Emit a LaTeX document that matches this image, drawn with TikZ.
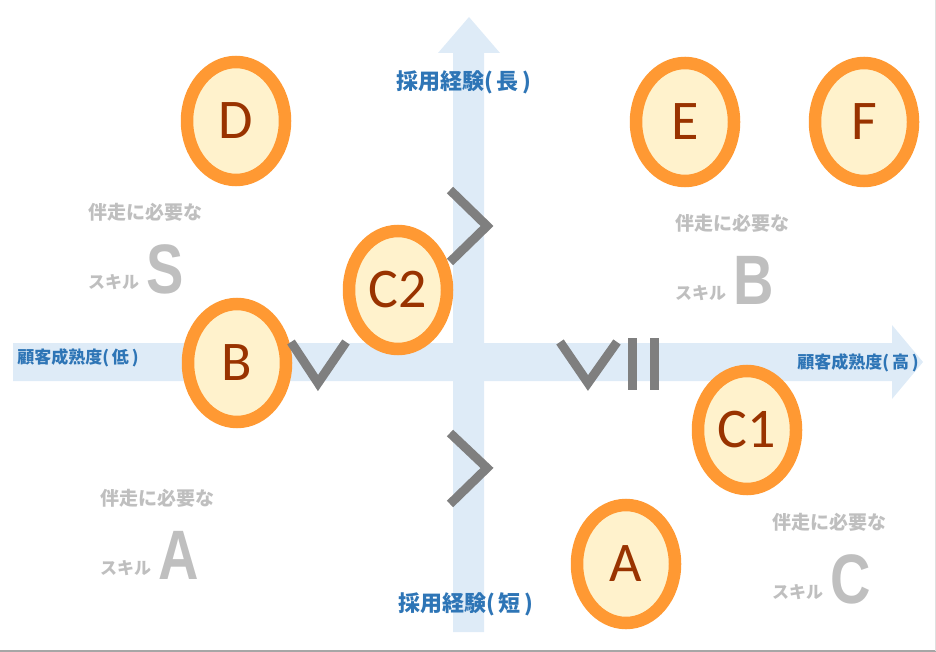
\documentclass[tikz,border=0pt]{standalone}
\usepackage{fontspec}
\usepackage{graphicx}
\usetikzlibrary{shapes.geometric}
\newfontfamily\jpfont{Noto Sans CJK JP}
\newfontfamily\latfont{Carlito}
\newfontfamily\bigfont{Liberation Sans}
\definecolor{bandblue}{HTML}{DEEBF7}
\definecolor{ringorange}{HTML}{FF9933}
\definecolor{ringfill}{HTML}{FFF2CC}
\definecolor{lettercol}{HTML}{993300}
\definecolor{axisblue}{HTML}{2E75B6}
\definecolor{skillgray}{HTML}{BFBFBF}
\definecolor{chevgray}{HTML}{7F7F7F}

\begin{document}
\begin{tikzpicture}[x=1pt, y=-1pt,
    band/.style={fill=bandblue},
    bubble/.style={ellipse, draw=ringorange, line width=12.5pt, fill=ringfill,
        minimum width=98pt, minimum height=118pt, inner sep=0pt,
        text=lettercol, font=\latfont\fontsize{56}{56}\selectfont},
    chevron/.style={draw=chevgray, line width=9pt, line join=miter},
    axislabel/.style={text=axisblue, inner sep=0pt},
    skilltext/.style={text=skillgray, anchor=west, inner sep=0pt,
        font=\jpfont\bfseries\fontsize{19}{19}\selectfont},
    skillsmall/.style={text=skillgray, anchor=west, inner sep=0pt,
        font=\jpfont\bfseries\fontsize{17}{17}\selectfont},
    skillbig/.style={text=skillgray, anchor=west, inner sep=0pt,
        font=\bigfont\bfseries\fontsize{70}{70}\selectfont}]
    \useasboundingbox (0,0) rectangle (936,652);

    % marco inferior y derecho
    \draw[gray!70, line width=1.5pt] (0,651) -- (936,651);
    \draw[gray!25, line width=0.8pt] (935.5,0) -- (935.5,651);

    % ejes en forma de flecha ancha
    \fill[band] (13,343) -- (892,343) -- (892,325) -- (923,362)
        -- (892,399) -- (892,381) -- (13,381) -- cycle;
    \fill[band] (453,632) -- (453,53) -- (438,53) -- (469,17)
        -- (500,53) -- (484,53) -- (484,632) -- cycle;

    % etiquetas de los ejes
    \node[axislabel, font=\jpfont\bfseries\fontsize{22}{22}\selectfont]
        (exp-long) at (464,82) {採用経験(\,長\,)};
    \node[axislabel, font=\jpfont\bfseries\fontsize{22}{22}\selectfont]
        (exp-short) at (466,604) {採用経験(\,短\,)};
    \node[axislabel, font=\jpfont\bfseries\fontsize{17}{17}\selectfont]
        (mat-low) at (78,358) {顧客成熟度(\,低\,)};
    \node[axislabel, font=\jpfont\bfseries\fontsize{17}{17}\selectfont]
        (mat-high) at (858,363) {顧客成熟度(\,高\,)};

    % habilidades necesarias
    \foreach \nm/\x/\y/\lt in {s/88/212/S, b/675/223/B, a/100/498/A, c/772/522/C}{
        \node[skilltext] (need-\nm) at (\x,\y) {伴走に必要な};
        \node[skillsmall] (skill-\nm) at (\x,\y+70) {スキル};
        \node[skillbig] (grade-\nm) at (\x+58,\y+57) {\scalebox{0.8}[1]{\lt}};
    }

    % personas
    \foreach \nm/\x/\y in {D/236/121, E/685/122, F/864/122, C2/398/290,
                           B/237/363, C1/747/430, A/626/564}
        \node[bubble] (p-\nm) at (\x,\y) {\nm};

    % signos de comparacion
    \draw[chevron] (450,190) -- (487,226) -- (450,262);
    \draw[chevron] (450,433) -- (487,468) -- (450,504);
    \draw[chevron] (291,342) -- (318,383) -- (346,342);
    \draw[chevron] (560,342) -- (588,383) -- (617,342);
    \foreach \x in {632.5,654}
        \draw[chevgray, line width=9pt] (\x,338) -- (\x,390);
\end{tikzpicture}
\end{document}
